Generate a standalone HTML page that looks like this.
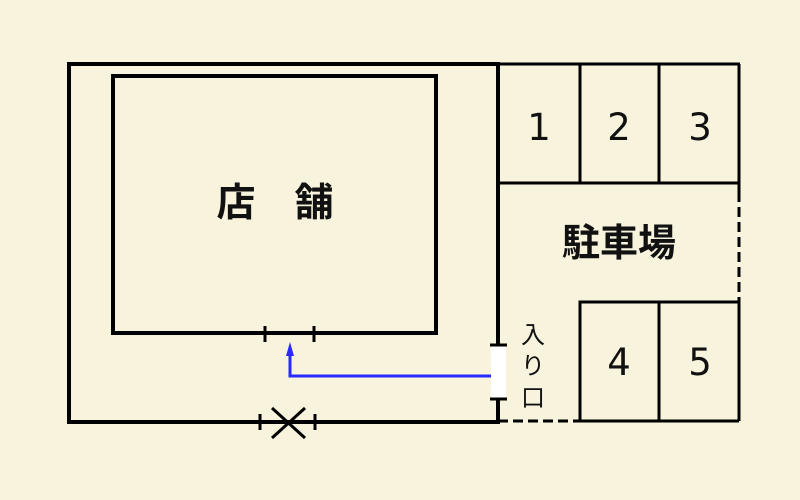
<!DOCTYPE html>
<html><head><meta charset="utf-8"><style>
html,body{margin:0;padding:0;background:#f7f3dc;}
svg{display:block;}
text{font-family:"DejaVu Sans","Liberation Sans","Noto Sans CJK JP",sans-serif;fill:#111;}
.j{font-family:"Liberation Sans","Noto Sans CJK JP",sans-serif;}
</style></head><body>
<svg width="800" height="500" viewBox="0 0 800 500" xmlns="http://www.w3.org/2000/svg">
<rect width="800" height="500" fill="#f7f3dc"/>
<g stroke="#000" fill="none" stroke-linecap="butt">
<polyline points="498,64 69,64 69,422 498,422" stroke-width="4"/>
<line x1="498" y1="62" x2="498" y2="345" stroke-width="4"/>
<line x1="498" y1="398" x2="498" y2="424" stroke-width="4"/>
<rect x="113" y="76" width="323" height="257" stroke-width="4"/>
<line x1="265" y1="326" x2="265" y2="342" stroke-width="3"/>
<line x1="314" y1="326" x2="314" y2="342" stroke-width="3"/>
<line x1="260" y1="414" x2="260" y2="430" stroke-width="3"/>
<line x1="315" y1="414" x2="315" y2="430" stroke-width="3"/>
<line x1="272" y1="408" x2="305" y2="438" stroke-width="3"/>
<line x1="305" y1="408" x2="272" y2="438" stroke-width="3"/>
<line x1="498" y1="64" x2="740" y2="64" stroke-width="3"/>
<line x1="739" y1="64" x2="739" y2="192" stroke-width="3"/>
<line x1="739" y1="192" x2="739" y2="302" stroke-width="3" stroke-dasharray="10,5"/>
<line x1="739" y1="302" x2="739" y2="421" stroke-width="3"/>
<line x1="498" y1="421" x2="580" y2="421" stroke-width="3" stroke-dasharray="10,5"/>
<line x1="499" y1="183" x2="739" y2="183" stroke-width="3"/>
<line x1="580" y1="64" x2="580" y2="183" stroke-width="3"/>
<line x1="659" y1="64" x2="659" y2="183" stroke-width="3"/>
<polyline points="580,421 580,302 739,302" stroke-width="3"/>
<line x1="580" y1="421" x2="739" y2="421" stroke-width="3"/>
<line x1="659" y1="302" x2="659" y2="421" stroke-width="3"/>
<rect x="491" y="346" width="15" height="52" fill="#fff" stroke="none"/>
<line x1="490" y1="345" x2="507" y2="345" stroke-width="3"/>
<line x1="490" y1="399" x2="507" y2="399" stroke-width="3"/>
</g>
<polyline points="491,376 290,376 290,352" stroke="#2a2aff" stroke-width="3" fill="none"/>
<polygon points="290,342 286,356 294,356" fill="#2a2aff"/>
<text class="j" x="275" y="216" font-size="39" font-weight="bold" text-anchor="middle">店　舗</text>
<text class="j" x="619" y="256" font-size="38" font-weight="bold" text-anchor="middle">駐車場</text>
<g font-size="37" text-anchor="middle">
<text x="539" y="140">1</text>
<text x="619" y="140">2</text>
<text x="700" y="140">3</text>
<text x="619" y="375">4</text>
<text x="700" y="375">5</text>
</g>
<g font-size="24" text-anchor="middle">
<text class="j" x="533" y="343">入</text>
<text class="j" x="533" y="374">り</text>
<text class="j" x="533" y="406">口</text>
</g>
</svg>
</body></html>
